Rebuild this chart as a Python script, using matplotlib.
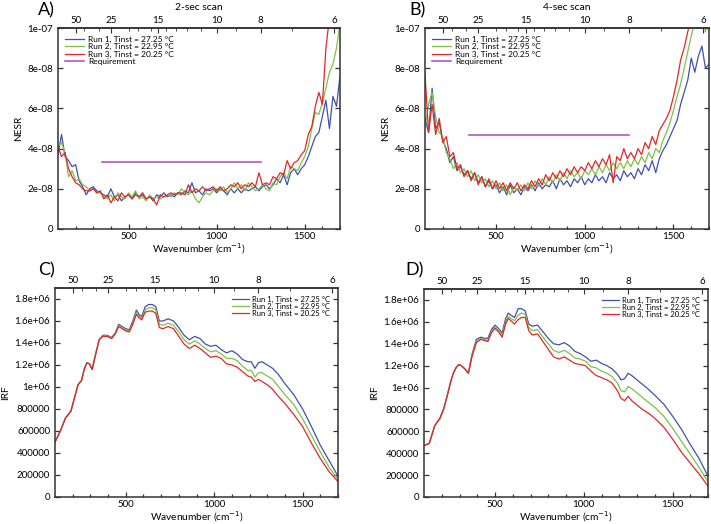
import numpy as np
import matplotlib
matplotlib.use("Agg")
import matplotlib.pyplot as plt

plt.rcParams['font.family'] = ['Lato', 'DejaVu Sans']

# ---------------- data ----------------
nesr_wn = list(range(100, 1701, 20))

nesr_a_run1 = [3.7, 4.7, 3.6, 3.4, 3.1, 3.2, 2.4, 2.1, 1.7, 2.0, 2.1, 1.9, 1.8, 1.7, 1.6, 2.0, 1.6, 1.7, 1.4, 1.6,
               1.7, 1.5, 1.8, 1.6, 1.7, 1.5, 1.6, 1.4, 1.7, 1.6, 1.8, 1.6, 1.7, 1.6, 1.8, 1.7, 1.9, 1.8, 2.3, 1.8,
               1.9, 1.7, 2.0, 1.9, 2.0, 1.8, 2.0, 1.9, 1.7, 2.0, 1.8, 2.0, 1.8, 2.0, 1.9, 2.0, 2.1, 1.9, 2.1, 2.2,
               2.0, 2.2, 2.5, 2.3, 2.7, 2.2, 2.8, 3.0, 2.7, 3.0, 3.2, 3.6, 4.1, 4.6, 4.8, 5.6, 6.4, 5.0, 6.6, 6.1, 7.6]
nesr_a_run2 = [4.1, 4.3, 3.8, 2.6, 2.9, 2.4, 2.5, 2.2, 2.1, 1.9, 2.0, 1.8, 1.8, 1.6, 1.5, 1.7, 1.4, 1.8, 1.6, 1.5,
               1.8, 1.6, 1.9, 1.5, 1.6, 1.4, 1.7, 1.5, 1.6, 1.5, 1.6, 1.7, 1.6, 1.8, 1.7, 2.0, 1.8, 1.7, 1.9, 1.5,
               1.3, 1.6, 1.8, 1.7, 1.9, 2.0, 1.9, 2.1, 1.8, 2.0, 2.3, 2.0, 2.2, 1.9, 2.3, 2.1, 1.9, 2.0, 2.2, 2.0,
               1.9, 2.3, 2.2, 2.6, 2.8, 2.5, 3.1, 3.0, 2.9, 3.3, 3.6, 4.1, 5.0, 5.8, 5.7, 6.3, 7.0, 7.8, 8.2, 9.0, 10.2]
nesr_a_run3 = [4.1, 3.6, 3.8, 3.0, 2.6, 2.3, 2.2, 2.0, 1.9, 1.9, 2.0, 1.8, 1.9, 1.5, 1.7, 1.3, 1.6, 1.4, 1.8, 1.6,
               1.7, 1.5, 1.7, 1.6, 1.8, 1.5, 1.6, 1.5, 1.2, 1.7, 1.6, 1.7, 1.8, 1.7, 1.8, 1.8, 1.7, 2.2, 1.8, 2.0,
               1.9, 2.1, 1.9, 2.0, 2.1, 1.9, 2.1, 1.9, 2.0, 2.2, 2.1, 2.3, 2.0, 2.2, 2.1, 2.3, 2.1, 2.8, 2.2, 2.3,
               2.2, 2.6, 2.5, 2.8, 2.7, 3.4, 3.0, 3.3, 3.4, 3.7, 3.9, 4.7, 5.1, 6.1, 6.8, 6.2, 9.0, 10.5, 12.0, 12.0, 12.0]

nesr_b_run1 = [5.5, 4.8, 7.0, 5.0, 5.3, 4.4, 4.0, 3.3, 3.6, 2.9, 3.1, 2.7, 2.9, 2.5, 2.8, 2.3, 2.6, 2.1, 2.4, 2.0,
               2.2, 1.8, 2.1, 1.7, 2.2, 1.8, 2.0, 1.7, 2.1, 1.9, 2.2, 1.9, 2.3, 2.0, 2.2, 2.1, 2.4, 2.0, 2.5, 2.2,
               2.4, 2.1, 2.5, 2.3, 2.6, 2.2, 2.5, 2.3, 2.7, 2.4, 2.6, 2.3, 2.8, 2.5, 2.7, 2.4, 2.9, 2.6, 2.8, 2.5,
               3.0, 2.7, 3.2, 2.9, 3.4, 2.8, 3.5, 3.9, 4.2, 4.6, 5.0, 5.4, 6.2, 6.8, 7.4, 8.5, 7.8, 8.6, 9.1, 8.0, 8.2]
nesr_b_run2 = [5.0, 6.2, 6.8, 5.6, 4.8, 4.6, 3.8, 3.5, 3.0, 3.3, 2.8, 3.0, 2.6, 2.9, 2.4, 2.7, 2.3, 2.5, 2.1, 2.4,
               2.0, 2.3, 1.9, 2.2, 1.7, 2.1, 1.9, 2.2, 1.9, 2.3, 2.0, 2.4, 2.1, 2.5, 2.2, 2.6, 2.3, 2.7, 2.4, 2.8,
               2.5, 2.9, 2.6, 2.8, 2.5, 2.9, 2.7, 3.0, 2.7, 3.1, 2.8, 3.2, 2.9, 3.3, 3.0, 3.3, 3.0, 3.4, 3.1, 3.5,
               3.2, 3.6, 3.3, 3.8, 3.5, 4.0, 3.8, 4.4, 4.8, 5.3, 5.9, 6.6, 7.2, 8.0, 8.8, 9.6, 10.3, 10.5, 10.8, 9.8, 10.5]
nesr_b_run3 = [7.7, 4.8, 6.2, 4.7, 5.5, 4.3, 4.6, 3.6, 3.8, 3.0, 3.2, 2.6, 2.9, 2.4, 2.8, 2.2, 2.6, 2.1, 2.5, 2.0,
               2.4, 2.0, 2.3, 1.9, 2.3, 2.0, 2.3, 1.9, 2.2, 2.0, 2.4, 2.1, 2.5, 2.2, 2.7, 2.4, 2.8, 2.5, 2.9, 2.6,
               3.0, 2.7, 3.1, 2.8, 3.1, 2.9, 3.3, 3.0, 3.4, 3.1, 3.5, 3.2, 3.7, 2.3, 3.6, 3.4, 4.0, 3.5, 3.8, 3.5,
               4.0, 3.7, 4.3, 4.0, 4.6, 4.2, 4.9, 5.2, 5.5, 5.9, 6.6, 7.4, 8.4, 9.0, 9.8, 10.5, 10.8, 11.0, 11.0, 11.0, 11.0]

req_wn = [350, 1250]
req_a = [3.33, 3.33]
req_b = [4.68, 4.68]

irf_wn = [100, 130, 160, 190, 210, 230, 250, 265, 280, 295, 310, 330, 350, 370, 395, 420, 440, 460, 480, 500,
          520, 540, 560, 575, 590, 610, 630, 650, 670, 690, 710, 740, 770, 800, 830, 860, 890, 920, 950, 980,
          1010, 1040, 1070, 1100, 1130, 1160, 1190, 1210, 1230, 1250, 1270, 1300, 1330, 1360, 1400, 1450, 1500,
          1550, 1600, 1650, 1700]

irf_c_run3 = [0.50, 0.60, 0.72, 0.78, 0.90, 1.02, 1.06, 1.16, 1.22, 1.21, 1.16, 1.30, 1.43, 1.46, 1.46, 1.44, 1.48,
              1.55, 1.53, 1.51, 1.50, 1.57, 1.66, 1.63, 1.61, 1.68, 1.69, 1.69, 1.67, 1.54, 1.53, 1.55, 1.53, 1.46,
              1.39, 1.35, 1.38, 1.35, 1.31, 1.27, 1.28, 1.26, 1.21, 1.20, 1.18, 1.14, 1.10, 1.09, 1.05, 1.07, 1.05,
              1.02, 0.98, 0.92, 0.85, 0.75, 0.64, 0.49, 0.35, 0.23, 0.14]
irf_c_run1 = [0.50, 0.60, 0.72, 0.78, 0.90, 1.02, 1.06, 1.16, 1.22, 1.21, 1.16, 1.30, 1.43, 1.47, 1.47, 1.45, 1.49,
              1.57, 1.55, 1.53, 1.52, 1.60, 1.70, 1.66, 1.64, 1.73, 1.75, 1.75, 1.73, 1.60, 1.60, 1.62, 1.60, 1.54,
              1.47, 1.43, 1.46, 1.44, 1.39, 1.37, 1.38, 1.34, 1.31, 1.33, 1.30, 1.25, 1.23, 1.23, 1.17, 1.22, 1.23,
              1.20, 1.17, 1.12, 1.03, 0.93, 0.80, 0.64, 0.47, 0.33, 0.19]
irf_c_run2 = [0.50, 0.60, 0.72, 0.78, 0.90, 1.02, 1.06, 1.16, 1.22, 1.21, 1.16, 1.30, 1.43, 1.465, 1.465, 1.445, 1.485,
              1.56, 1.54, 1.52, 1.51, 1.58, 1.68, 1.64, 1.62, 1.70, 1.72, 1.72, 1.70, 1.57, 1.56, 1.58, 1.56, 1.50,
              1.43, 1.39, 1.42, 1.39, 1.35, 1.32, 1.33, 1.30, 1.26, 1.26, 1.24, 1.19, 1.15, 1.15, 1.09, 1.13, 1.13,
              1.10, 1.07, 1.01, 0.93, 0.84, 0.71, 0.56, 0.41, 0.27, 0.16]

irf_d_run3 = [0.47, 0.49, 0.65, 0.72, 0.80, 0.92, 1.05, 1.13, 1.18, 1.21, 1.20, 1.17, 1.13, 1.28, 1.41, 1.44, 1.43,
              1.42, 1.50, 1.54, 1.51, 1.46, 1.58, 1.63, 1.61, 1.58, 1.62, 1.64, 1.64, 1.52, 1.48, 1.49, 1.42, 1.35,
              1.28, 1.26, 1.28, 1.25, 1.22, 1.21, 1.20, 1.15, 1.11, 1.09, 1.07, 1.04, 0.97, 0.90, 0.88, 0.92, 0.88,
              0.84, 0.80, 0.77, 0.72, 0.64, 0.53, 0.41, 0.31, 0.21, 0.10]
irf_d_run1 = [0.47, 0.49, 0.65, 0.72, 0.80, 0.92, 1.05, 1.13, 1.18, 1.21, 1.20, 1.17, 1.13, 1.30, 1.44, 1.46, 1.45,
              1.45, 1.53, 1.57, 1.54, 1.50, 1.63, 1.68, 1.66, 1.64, 1.72, 1.72, 1.70, 1.58, 1.56, 1.57, 1.51, 1.45,
              1.40, 1.39, 1.41, 1.38, 1.33, 1.31, 1.28, 1.24, 1.25, 1.22, 1.20, 1.17, 1.12, 1.07, 1.08, 1.13, 1.11,
              1.07, 1.03, 0.99, 0.93, 0.85, 0.74, 0.62, 0.48, 0.35, 0.19]
irf_d_run2 = [0.47, 0.49, 0.65, 0.72, 0.80, 0.92, 1.05, 1.13, 1.18, 1.21, 1.20, 1.17, 1.13, 1.29, 1.42, 1.45, 1.44,
              1.43, 1.51, 1.55, 1.52, 1.48, 1.60, 1.65, 1.63, 1.61, 1.66, 1.68, 1.67, 1.55, 1.52, 1.53, 1.46, 1.40,
              1.34, 1.32, 1.34, 1.31, 1.27, 1.26, 1.24, 1.19, 1.18, 1.15, 1.13, 1.10, 1.04, 0.97, 0.96, 1.01, 0.99,
              0.95, 0.91, 0.87, 0.82, 0.74, 0.63, 0.51, 0.39, 0.27, 0.14]

run_labels = ['Run 1, Tinst = 27.25 \u00b0C', 'Run 2, Tinst = 22.95 \u00b0C', 'Run 3, Tinst = 20.25 \u00b0C']
req_label = 'Requirement'
top_ticks = [50, 25, 15, 10, 8, 6]
top_minor = [40, 30, 20, 18, 16, 14, 13, 12, 11, 9, 7]
nesr_yticks = [0, 2e-8, 4e-8, 6e-8, 8e-8, 1e-7]
nesr_ylabels = ['0', '2e-08', '4e-08', '6e-08', '8e-08', '1e-07']
irf_yticks = [0, 2e5, 4e5, 6e5, 8e5, 1e6, 1.2e6, 1.4e6, 1.6e6, 1.8e6]
irf_ylabels = ['0', '200000', '400000', '600000', '800000', '1e+06', '1.2e+06', '1.4e+06', '1.6e+06', '1.8e+06']

# ---------------- style ----------------
c_blue = '#3f51b0'
c_green = '#7dc242'
c_red = '#e3262b'
c_req = '#b955be'
colors = [c_blue, c_green, c_red]
spine_c = '#333333'
tfs = 7

fig = plt.figure(figsize=(7.11, 5.24), dpi=100)

W, H = 711, 524
def add_ax(l, t, r, b):
    return fig.add_axes([l / W, 1 - b / H, (r - l) / W, (b - t) / H])

axA = add_ax(58, 28, 340, 229)
axB = add_ax(425, 28, 709, 229)
axC = add_ax(55, 288, 338, 497)
axD = add_ax(424, 289, 708, 497)


def inv(x):
    x = np.asarray(x, dtype=float)
    with np.errstate(divide='ignore', invalid='ignore'):
        return 1e4 / x


def style(ax, yticks, ylabels, ylabel):
    ax.set_xlim(100, 1700)
    ax.set_xticks([500, 1000, 1500])
    ax.set_xticks(range(200, 1701, 100), minor=True)
    ax.set_yticks(yticks, ylabels)
    ax.tick_params(axis='both', which='both', direction='in', labelsize=tfs, right=True,
                   color=spine_c, width=0.9)
    ax.tick_params(axis='both', which='major', length=3.5)
    ax.tick_params(axis='x', which='major', pad=2.5)
    ax.tick_params(axis='x', which='minor', length=2)
    for s in ax.spines.values():
        s.set_linewidth(1.1)
        s.set_color(spine_c)
    ax.set_xlabel('Wavenumber (cm$^{-1}$)', fontsize=7.3, labelpad=0)
    ax.set_ylabel(ylabel, fontsize=7.3, labelpad=3)
    sec = ax.secondary_xaxis('top', functions=(inv, inv))
    sec.set_xticks(top_ticks)
    sec.set_xticks(top_minor, minor=True)
    sec.set_xticklabels([str(t) for t in top_ticks])
    sec.tick_params(which='both', direction='in', labelsize=tfs, color=spine_c, pad=2)
    sec.tick_params(which='major', length=3.5)
    sec.tick_params(which='minor', length=2)
    sec.spines['top'].set_linewidth(1.1)
    sec.spines['top'].set_color(spine_c)
    return sec


# NESR panels
for ax, runs, req, title in [
        (axA, [nesr_a_run1, nesr_a_run2, nesr_a_run3], req_a, '2-sec scan'),
        (axB, [nesr_b_run1, nesr_b_run2, nesr_b_run3], req_b, '4-sec scan')]:
    for vals, col, lab in zip(runs, colors, run_labels):
        ax.plot(nesr_wn, np.array(vals) * 1e-8, color=col, lw=0.9, label=lab)
    ax.plot(req_wn, np.array(req) * 1e-8, color=c_req, lw=1.2, label=req_label)
    style(ax, nesr_yticks, nesr_ylabels, 'NESR')
    ax.set_ylim(0, 1e-7)
    ax.legend(loc='upper left', frameon=False, fontsize=6, handlelength=2.2,
              labelspacing=0.05, borderaxespad=0.5, handletextpad=0.5,
              bbox_to_anchor=(0.0, 1.0))
    bb = ax.get_position()
    fig.text((bb.x0 + bb.x1) / 2, 1 - 7 / H, title, ha='center', va='center', fontsize=7.5)

# IRF panels
for ax, runs in [(axC, [irf_c_run1, irf_c_run2, irf_c_run3]),
                 (axD, [irf_d_run1, irf_d_run2, irf_d_run3])]:
    for vals, col, lab in zip(runs, colors, run_labels):
        ax.plot(irf_wn, np.array(vals) * 1e6, color=col, lw=0.9, label=lab)
    style(ax, irf_yticks, irf_ylabels, 'IRF')
    ax.set_ylim(0, 1.9e6)
    ax.legend(loc='upper right', frameon=False, fontsize=5.5, handlelength=2.2,
              labelspacing=0.0, borderaxespad=0.6, handletextpad=0.5)

# panel labels
fig.text(38 / W, 1 - 10 / H, 'A)', fontsize=13, va='center', ha='left')
fig.text(409 / W, 1 - 10 / H, 'B)', fontsize=13, va='center', ha='left')
fig.text(38 / W, 1 - 270 / H, 'C)', fontsize=13, va='center', ha='left')
fig.text(405 / W, 1 - 270 / H, 'D)', fontsize=13, va='center', ha='left')

fig.savefig('out.png', dpi=100)
